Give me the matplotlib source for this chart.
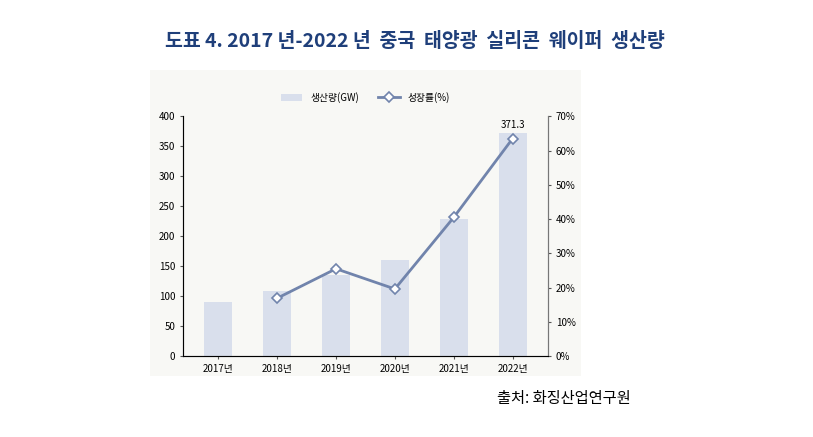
import matplotlib
matplotlib.use("Agg")
import matplotlib.pyplot as plt

plt.rcParams["font.family"] = ["Noto Sans CJK JP", "Noto Sans CJK KR", "Noto Sans CJK SC", "DejaVu Sans"]

years = ["2017년", "2018년", "2019년", "2020년", "2021년", "2022년"]
production = [90, 108, 135, 161, 228, 371.3]
growth_years = ["2018년", "2019년", "2020년", "2021년", "2022년"]
growth = [16.9, 25.5, 19.6, 40.5, 63.5]

fig = plt.figure(figsize=(8.13, 4.37), dpi=100)
fig.text(0.51, 0.905, "도표 4. 2017 년-2022 년  중국  태양광  실리콘  웨이퍼  생산량",
         ha="center", va="center", fontsize=14, fontweight="bold", color="#1F3F7A")
bg = fig.add_axes([0.185, 0.14, 0.53, 0.70])
bg.set_facecolor("#F8F8F5"); bg.set_xticks([]); bg.set_yticks([])
for s in bg.spines.values(): s.set_visible(False)

ax = fig.add_axes([0.225, 0.185, 0.449, 0.549])
ax.set_facecolor("none")
x = list(range(len(years)))
ax.bar(x, production, width=0.48, color="#D9DFEC", label="생산량(GW)", zorder=2)
ax.set_ylim(0, 400)
ax.set_yticks(range(0, 401, 50))
ax.set_xlim(-0.6, 5.6)
ax.set_xticks(x)
ax.set_xticklabels(years)
ax.tick_params(labelsize=7, length=2, color="#555")
ax.text(5, 371.3 + 6, "371.3", ha="center", va="bottom", fontsize=7)
ax.spines["top"].set_visible(False)
for s in ["left", "bottom", "right"]:
    ax.spines[s].set_color("#777")

ax2 = ax.twinx()
gx = [years.index(g) for g in growth_years]
ax2.plot(gx, growth, color="#7184AC", lw=2, marker="D", ms=5,
         mfc="white", mec="#7184AC", mew=1.2, label="성장률(%)", zorder=3)
ax2.set_ylim(0, 70)
ax2.set_yticks(range(0, 71, 10))
ax2.set_yticklabels([f"{v}%" for v in range(0, 71, 10)])
ax2.tick_params(labelsize=7, length=2, color="#555")
ax2.spines["top"].set_visible(False)
ax2.spines["right"].set_color("#777")

h1, l1 = ax.get_legend_handles_labels()
h2, l2 = ax2.get_legend_handles_labels()
ax.legend(h1 + h2, l1 + l2, loc="lower center", bbox_to_anchor=(0.5, 1.02),
          ncol=2, frameon=False, fontsize=7, handlelength=2.2)

fig.text(0.693, 0.088, "출처: 화징산업연구원", ha="center", va="center", fontsize=11)
fig.savefig("out.png", dpi=100)
